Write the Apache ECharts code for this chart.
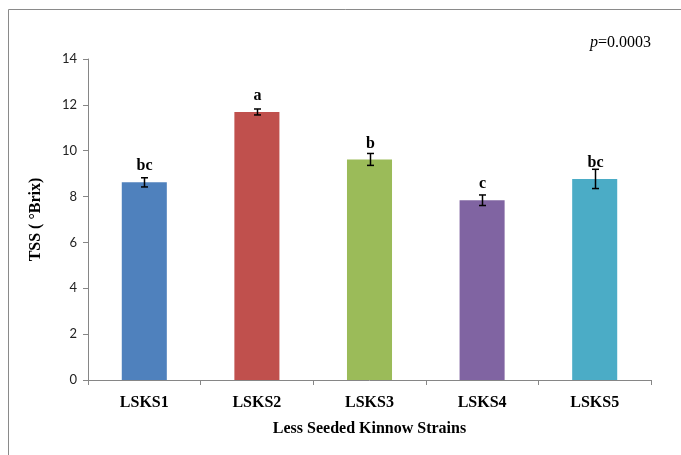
<!DOCTYPE html>
<html>
<head>
<meta charset="utf-8">
<script src="https://cdn.jsdelivr.net/npm/echarts@6/dist/echarts.min.js"></script>
<style>html,body{margin:0;padding:0;background:#fff;}#c{width:681px;height:455px;}</style>
</head>
<body>
<div id="c"></div>
<script>
const categories = ['LSKS1', 'LSKS2', 'LSKS3', 'LSKS4', 'LSKS5'];
const values = [8.62, 11.69, 9.62, 7.84, 8.77];
const errors = [0.20, 0.13, 0.26, 0.23, 0.42];
const letters = ['bc', 'a', 'b', 'c', 'bc'];
const colors = ['#4F81BD', '#C0504D', '#9BBB59', '#8064A2', '#4BACC6'];
const yMin = 0, yMax = 14, yInterval = 2;

const serif = "'Liberation Serif', 'Times New Roman', serif";
const chart = echarts.init(document.getElementById('c'), null, {renderer: 'canvas'});
chart.setOption({
  animation: false,
  backgroundColor: '#fff',
  grid: {left: 88, right: 30, top: 59, bottom: 75, containLabel: false},
  graphic: [
    {type: 'rect', shape: {x: 8.5, y: 9.5, width: 720, height: 520}, style: {fill: 'none', stroke: '#8a8a8a', lineWidth: 1}, silent: true},
    {type: 'text', right: 30, top: 35, style: {text: '{i|p}=0.0003', font: '16px ' + serif, fill: '#000',
      rich: {i: {fontStyle: 'italic', fontFamily: serif, fontSize: 16}}}}
  ],
  xAxis: {
    type: 'category', data: categories, boundaryGap: true,
    axisLine: {lineStyle: {color: '#868686', width: 1}},
    axisTick: {show: true, length: 5, lineStyle: {color: '#868686'}},
    axisLabel: {fontFamily: serif, fontWeight: 'bold', fontSize: 16, color: '#000', margin: 15},
    name: 'Less Seeded Kinnow Strains', nameLocation: 'middle', nameGap: 41,
    nameTextStyle: {fontFamily: serif, fontWeight: 'bold', fontSize: 16, color: '#000'}
  },
  yAxis: {
    type: 'value', min: yMin, max: yMax, interval: yInterval,
    axisLine: {show: true, lineStyle: {color: '#868686', width: 1}},
    axisTick: {show: true, length: 5, lineStyle: {color: '#868686'}},
    splitLine: {show: false},
    axisLabel: {fontFamily: 'Lato, Carlito, sans-serif', fontSize: 13, color: '#222', margin: 11},
    name: 'TSS ( °Brix)', nameLocation: 'middle', nameGap: 44, nameRotate: 90,
    nameTextStyle: {fontFamily: serif, fontWeight: 'bold', fontSize: 16, color: '#000'}
  },
  series: [
    {
      type: 'bar', barWidth: '40%',
      data: values.map((v, i) => ({value: v, itemStyle: {color: colors[i]}}))
    },
    {
      type: 'custom', z: 10,
      data: values.map((v, i) => [i, v, errors[i]]),
      renderItem: function (params, api) {
        const i = api.value(0), v = api.value(1), e = api.value(2);
        const hi = api.coord([i, v + e]);
        const lo = api.coord([i, v - e]);
        const top = api.coord([i, v]);
        const x = Math.round(hi[0]) + 0.5;
        const cap = 3.5;
        const ls = {stroke: '#000', lineWidth: 1.5};
        return {
          type: 'group', children: [
            {type: 'line', shape: {x1: x, y1: hi[1], x2: x, y2: lo[1]}, style: ls},
            {type: 'line', shape: {x1: x - cap, y1: hi[1], x2: x + cap, y2: hi[1]}, style: ls},
            {type: 'line', shape: {x1: x - cap, y1: lo[1], x2: x + cap, y2: lo[1]}, style: ls},
            {type: 'text', style: {text: letters[params.dataIndex], x: x, y: top[1] - 8,
              textAlign: 'center', textVerticalAlign: 'bottom',
              font: 'bold 16px ' + serif, fill: '#000'}}
          ]
        };
      }
    }
  ]
});
</script>
</body>
</html>
